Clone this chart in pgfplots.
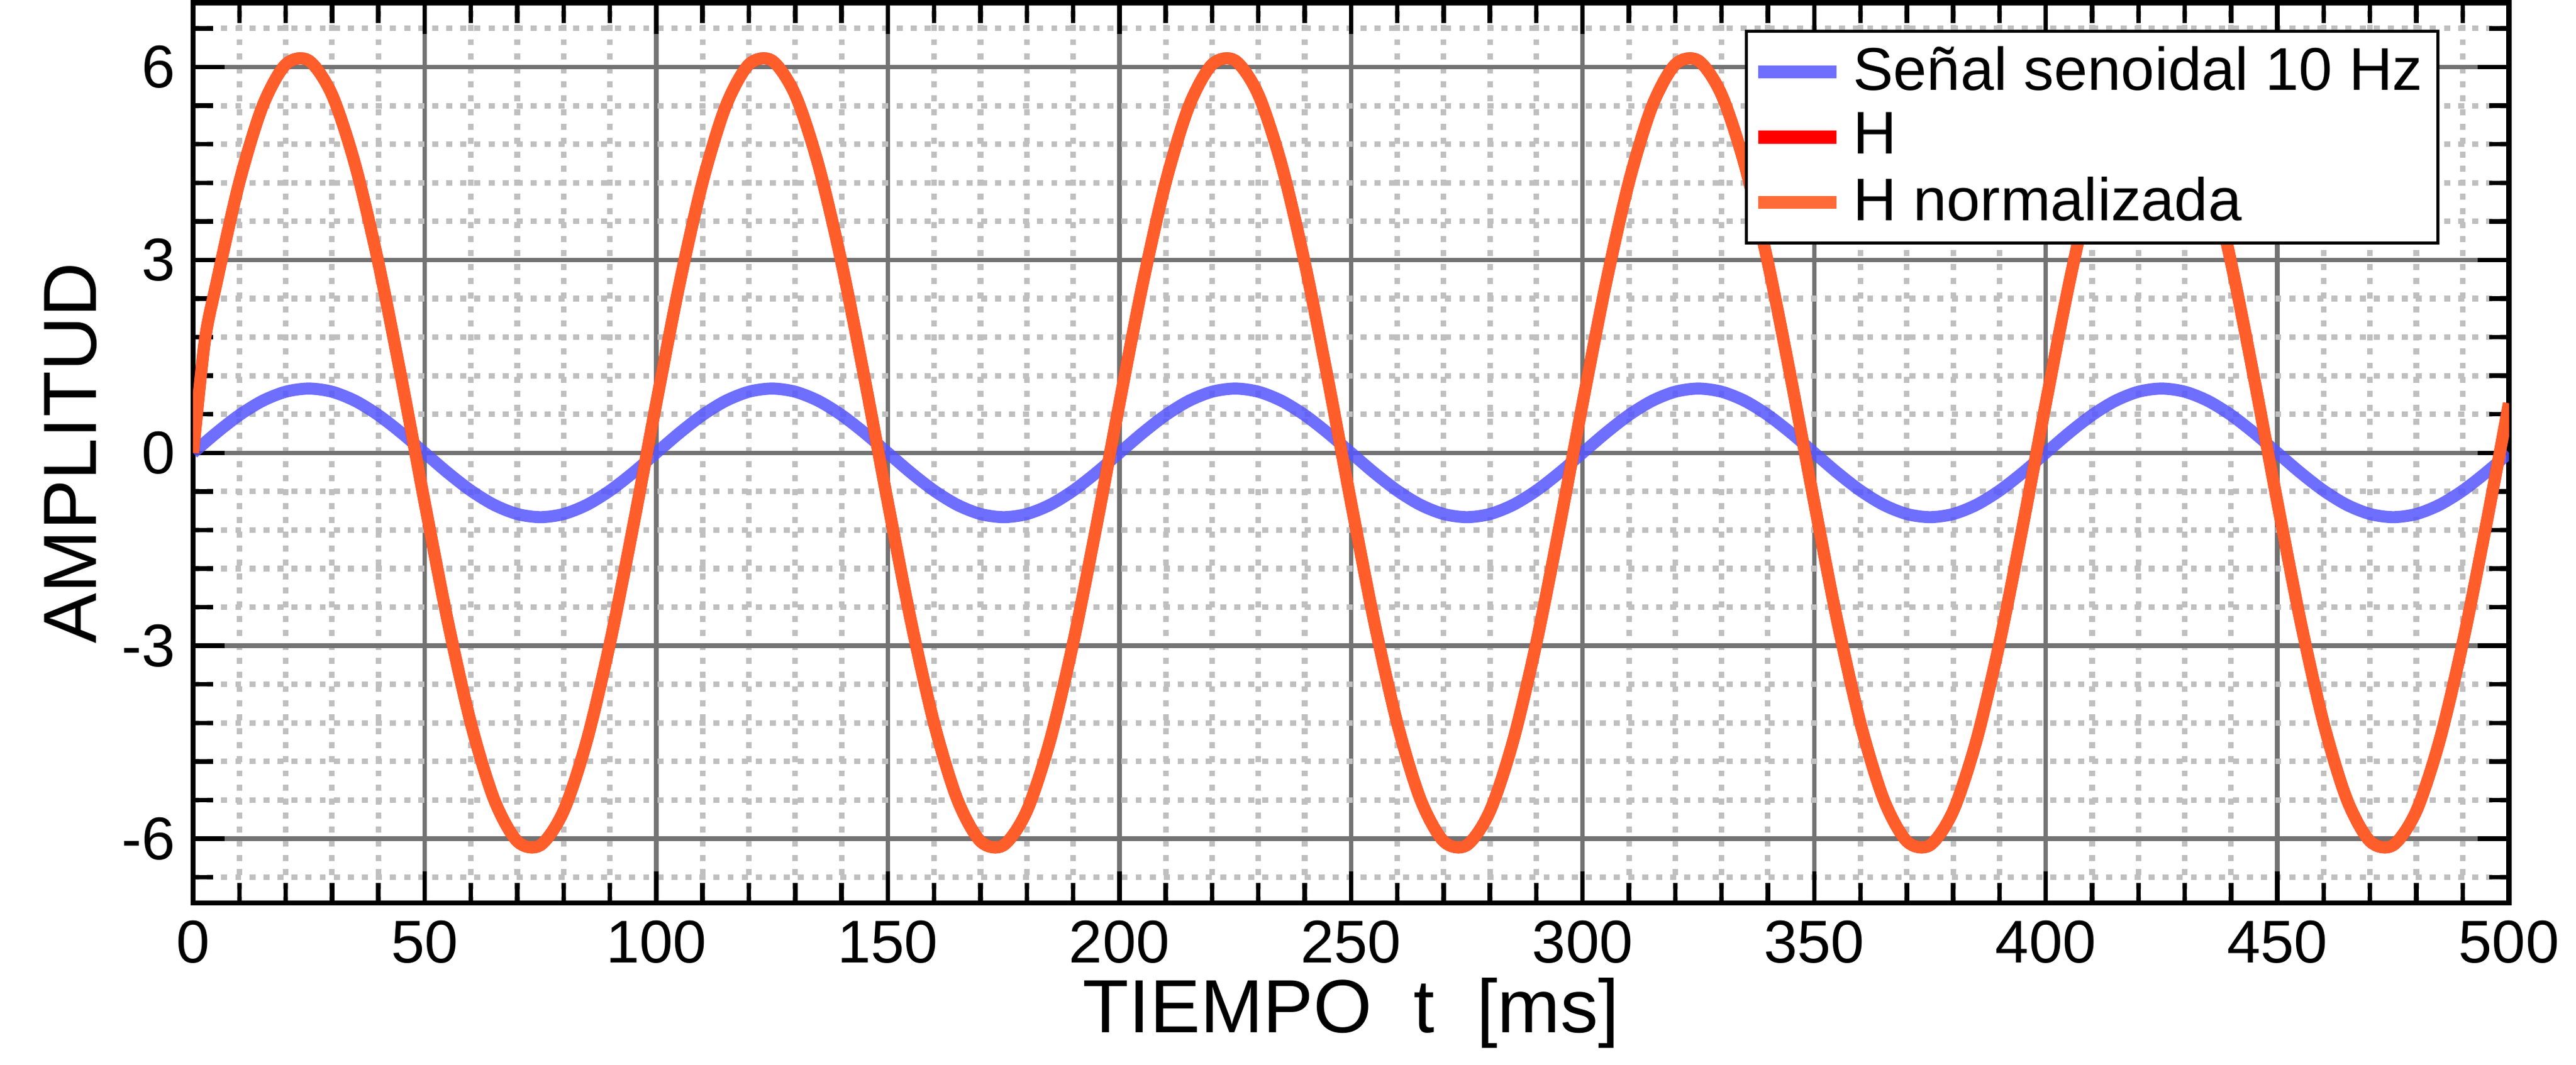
\documentclass[border=0pt]{standalone}
\usepackage{pgfplots}
\pgfplotsset{compat=1.18}
\usepackage{fontspec}
\setmainfont{Liberation Sans}
\begin{document}
\pgfplotstableread{
t v
0 0
5 0.309
10 0.588
15 0.809
20 0.951
25 1
30 0.951
35 0.809
40 0.588
45 0.309
50 0
55 -0.309
60 -0.588
65 -0.809
70 -0.951
75 -1
80 -0.951
85 -0.809
90 -0.588
95 -0.309
100 0
105 0.309
110 0.588
115 0.809
120 0.951
125 1
130 0.951
135 0.809
140 0.588
145 0.309
150 0
155 -0.309
160 -0.588
165 -0.809
170 -0.951
175 -1
180 -0.951
185 -0.809
190 -0.588
195 -0.309
200 0
205 0.309
210 0.588
215 0.809
220 0.951
225 1
230 0.951
235 0.809
240 0.588
245 0.309
250 0
255 -0.309
260 -0.588
265 -0.809
270 -0.951
275 -1
280 -0.951
285 -0.809
290 -0.588
295 -0.309
300 0
305 0.309
310 0.588
315 0.809
320 0.951
325 1
330 0.951
335 0.809
340 0.588
345 0.309
350 0
355 -0.309
360 -0.588
365 -0.809
370 -0.951
375 -1
380 -0.951
385 -0.809
390 -0.588
395 -0.309
400 0
405 0.309
410 0.588
415 0.809
420 0.951
425 1
430 0.951
435 0.809
440 0.588
445 0.309
450 0
455 -0.309
460 -0.588
465 -0.809
470 -0.951
475 -1
480 -0.951
485 -0.809
490 -0.588
495 -0.309
500 0
}\sen
\pgfplotstableread{
t h
0 0
2.5 1.72
5 2.62
10 4.21
15 5.39
20 6.04
25 6.10
30 5.57
35 4.48
40 2.96
45 1.15
50 -0.77
55 -2.62
60 -4.21
65 -5.39
70 -6.04
75 -6.10
80 -5.57
85 -4.48
90 -2.96
95 -1.15
100 0.77
105 2.62
110 4.21
115 5.39
120 6.04
125 6.10
130 5.57
135 4.48
140 2.96
145 1.15
150 -0.77
155 -2.62
160 -4.21
165 -5.39
170 -6.04
175 -6.10
180 -5.57
185 -4.48
190 -2.96
195 -1.15
200 0.77
205 2.62
210 4.21
215 5.39
220 6.04
225 6.10
230 5.57
235 4.48
240 2.96
245 1.15
250 -0.77
255 -2.62
260 -4.21
265 -5.39
270 -6.04
275 -6.10
280 -5.57
285 -4.48
290 -2.96
295 -1.15
300 0.77
305 2.62
310 4.21
315 5.39
320 6.04
325 6.10
330 5.57
335 4.48
340 2.96
345 1.15
350 -0.77
355 -2.62
360 -4.21
365 -5.39
370 -6.04
375 -6.10
380 -5.57
385 -4.48
390 -2.96
395 -1.15
400 0.77
405 2.62
410 4.21
415 5.39
420 6.04
425 6.10
430 5.57
435 4.48
440 2.96
445 1.15
450 -0.77
455 -2.62
460 -4.21
465 -5.39
470 -6.04
475 -6.10
480 -5.57
485 -4.48
490 -2.96
495 -1.15
500 0.77
}\hdat
\definecolor{myorange}{RGB}{255,100,45}
\definecolor{myblue}{RGB}{85,85,255}
\begin{tikzpicture}
\begin{axis}[
  width=16.2cm, height=6.3cm, scale only axis,
  xmin=0, xmax=500, ymin=-7, ymax=7,
  xtick={0,50,...,500}, ytick={-6,-3,0,3,6},
  yticklabels={-6,-3,0,3,6},
  minor x tick num=4,
  minor ytick={-6.6,-5.4,-4.8,-4.2,-3.6,-2.4,-1.8,-1.2,-0.6,0.6,1.2,1.8,2.4,3.6,4.2,4.8,5.4,6.6},
  grid=both,
  major grid style={black!55, line width=0.9pt},
  minor grid style={black!25, dash pattern=on 1.2pt off 1.6pt, line width=1.1pt},
  tick align=inside, tick pos=both,
  major tick length=0.22cm, minor tick length=0.14cm,
  tick style={black, line width=0.9pt},
  axis line style={black, line width=1pt},
  ticklabel style={font=\fontsize{12}{14}\selectfont},
  /pgf/number format/assume math mode=true,
  xlabel={TIEMPO\ \ t\ \ [ms]}, ylabel={AMPLITUD},
  label style={font=\fontsize{15}{17}\selectfont},
  xlabel style={yshift=4pt}, ylabel style={yshift=-2pt},
  legend pos=north east,
  legend style={font=\fontsize{12}{14}\selectfont, draw=black, line width=0.6pt, inner sep=1pt, row sep=-1pt, cells={anchor=west}},
  legend cell align=left,
  legend image code/.code={\draw[line width=2.6pt,#1] (0cm,0cm) -- (0.55cm,0cm);},
]
\addplot[myblue, opacity=0.85, line width=2.4pt, smooth] table[x=t,y=v] {\sen};
\addlegendentry{Señal senoidal 10 Hz}
\addplot[red, line width=2.4pt, smooth, forget plot] table[x=t,y=h] {\hdat};
\addlegendimage{red}
\addlegendentry{H}
\addplot[myorange, opacity=0.95, line width=2.4pt, smooth] table[x=t,y=h] {\hdat};
\addlegendentry{H normalizada}
\end{axis}
\end{tikzpicture}
\end{document}
